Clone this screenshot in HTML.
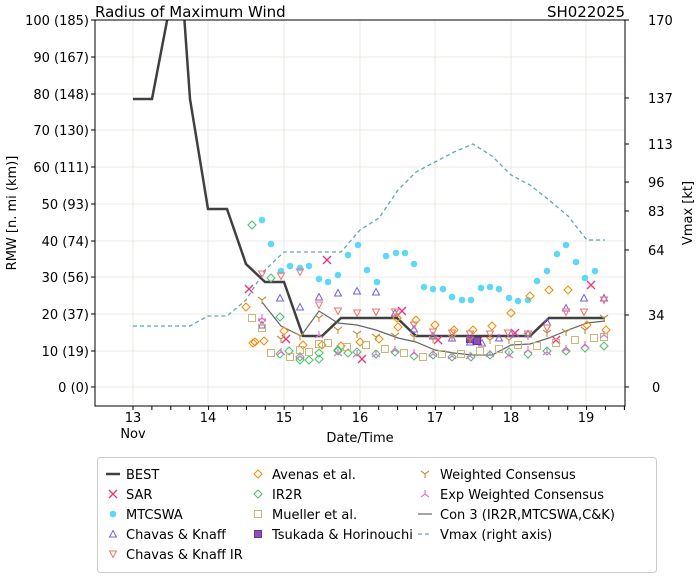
<!DOCTYPE html>
<html><head><meta charset="utf-8"><style>
body{margin:0;background:#fff;width:700px;height:579px;overflow:hidden}
svg text{font-family:"DejaVu Sans","Liberation Sans",sans-serif;fill:#000}
</style></head><body>
<svg id="s" width="700" height="579" xmlns="http://www.w3.org/2000/svg">
<defs><clipPath id="c"><rect x="95" y="20" width="530" height="386"/></clipPath></defs>
<rect x="95" y="20" width="530" height="386" fill="#fff"/>
<g id="grid" stroke="#e8e4dc" stroke-width="0.8"></g>
<text x="95" y="17" font-size="15">Radius of Maximum Wind</text>
<text x="625" y="17" font-size="15" text-anchor="end">SH022025</text>
<g font-size="13" text-anchor="end">
<text x="89" y="25">100 (185)</text><text x="89" y="62">90 (167)</text><text x="89" y="99">80 (148)</text><text x="89" y="135">70 (130)</text><text x="89" y="172">60 (111)</text><text x="89" y="209">50 (93)</text><text x="89" y="246">40 (74)</text><text x="89" y="282">30 (56)</text><text x="89" y="319">20 (37)</text><text x="89" y="356">10 (19)</text><text x="89" y="392">0 (0)</text>
</g>
<g font-size="13">
<text x="648" y="25">170</text><text x="648" y="103">137</text><text x="648" y="149">113</text><text x="648" y="187">96</text><text x="648" y="216">83</text><text x="648" y="255">64</text><text x="648" y="320">34</text><text x="652" y="392">0</text>
</g>
<g font-size="13" text-anchor="middle">
<text x="133" y="422">13</text><text x="133" y="438">Nov</text><text x="208" y="422">14</text><text x="284" y="422">15</text><text x="360" y="422">16</text><text x="435" y="422">17</text><text x="511" y="422">18</text><text x="586" y="422">19</text>
<text x="360" y="442">Date/Time</text>
</g>
<text transform="translate(16,213) rotate(-90)" font-size="13" text-anchor="middle">RMW [n. mi (km)]</text>
<text transform="translate(692,213) rotate(-90)" font-size="13" text-anchor="middle">Vmax [kt]</text>
<g id="plot" clip-path="url(#c)"></g>
<rect x="95" y="20" width="530" height="386" fill="none" stroke="#000" stroke-width="1"/>
<g id="ticks" stroke="#000"></g>
<rect x="97.5" y="457.5" width="559" height="115" rx="3" fill="#fff" stroke="#ccc"/>
<g font-size="13">
<text x="126" y="479">BEST</text><text x="126" y="499">SAR</text><text x="126" y="519">MTCSWA</text><text x="126" y="539">Chavas &amp; Knaff</text><text x="126" y="559">Chavas &amp; Knaff IR</text>
<text x="272" y="479">Avenas et al.</text><text x="272" y="499">IR2R</text><text x="272" y="519">Mueller et al.</text><text x="272" y="539">Tsukada &amp; Horinouchi</text>
<text x="440" y="479">Weighted Consensus</text><text x="440" y="499">Exp Weighted Consensus</text><text x="440" y="519">Con 3 (IR2R,MTCSWA,C&amp;K)</text><text x="440" y="539">Vmax (right axis)</text>
</g>
<g id="leg"></g>
</svg>
<script>
const NS="http://www.w3.org/2000/svg";
function el(p,t,a){const e=document.createElementNS(NS,t);for(const k in a)e.setAttribute(k,a[k]);document.getElementById(p).appendChild(e);return e;}
const ys=[20,57,94,130,167,204,241,277,314,351,387];
ys.forEach(y=>el("grid","line",{x1:95,x2:625,y1:y,y2:y}));
[133,208,284,360,435,511,586].forEach(x=>el("grid","line",{x1:x,x2:x,y1:20,y2:406}));
ys.forEach(y=>{el("ticks","line",{x1:91,x2:95,y1:y,y2:y});});
[20,98,144,182,211,250,315,387].forEach(y=>el("ticks","line",{x1:625,x2:629,y1:y,y2:y}));
for(let x=133;x<=625;x+=18.9){el("ticks","line",{x1:x,x2:x,y1:406,y2:410});}
function pl(pts,a){el("plot","polyline",Object.assign({points:pts.map(p=>p.join(",")).join(" "),fill:"none"},a));}
pl([[133,326],[190,326],[208,316],[227,316],[246,300],[265,270],[284,252],[341,252],[360,230],[379,218],[398,190],[416,172],[435,162],[454,152],[473,144],[492,156],[511,175],[530,185],[549,200],[568,216],[587,240],[605,240]],{stroke:"#5fa8b0","stroke-width":1.3,"stroke-dasharray":"4,3"});
pl([[133,99],[152,99],[171,0],[183,0],[190,99],[208,209],[227,209],[246,264],[265,282],[284,282],[303,336],[322,336],[341,318],[397,318],[416,336],[530,336],[549,318],[605,318]],{stroke:"#404040","stroke-width":2.5});
pl([[262,302],[281,326],[301,336],[319,311],[338,323],[357,325],[376,330],[398,338],[416,342],[435,350],[454,353],[473,355],[492,355],[511,345],[530,344],[549,338],[568,330],[587,323],[605,321]],{stroke:"#666","stroke-width":1.2});
function cyan(x,y,p){el(p||"plot","circle",{cx:x,cy:y,r:3.3,fill:"#5fd8f8"});}
function X(x,y,p){el(p||"plot","path",{d:`M${x-4},${y-4}L${x+4},${y+4}M${x-4},${y+4}L${x+4},${y-4}`,stroke:"#f0307a","stroke-width":1.3});}
function tri(x,y,c,up,p){const d=up?`M${x},${y-3.5}L${x+3.5},${y+3}L${x-3.5},${y+3}Z`:`M${x},${y+3.5}L${x+3.5},${y-3}L${x-3.5},${y-3}Z`;el(p||"plot","path",{d:d,fill:"none",stroke:c,"stroke-width":1});}
function dia(x,y,c,p){el(p||"plot","path",{d:`M${x},${y-4}L${x+4},${y}L${x},${y+4}L${x-4},${y}Z`,fill:"none",stroke:c,"stroke-width":1.1});}
function sq(x,y,c,f,p){el(p||"plot","rect",{x:x-3.5,y:y-3.5,width:7,height:7,fill:f||"none",stroke:c,"stroke-width":1});}
function Y(x,y,c,inv,p){const s=inv?-1:1;el(p||"plot","path",{d:`M${x},${y}L${x},${y+4*s}M${x},${y}L${x-4},${y-3*s}M${x},${y}L${x+4},${y-3*s}`,stroke:c,"stroke-width":1.1,fill:"none"});}
[[262,220],[271,244],[281,271],[290,266],[300,268],[309,266],[319,279],[328,282],[338,275],[348,255],[358,245],[367,270],[377,282],[386,256],[396,253],[405,253],[414,264],[424,287],[433,289],[443,289],[452,297],[462,300],[471,300],[481,288],[490,287],[499,289],[509,298],[518,301],[528,300],[537,281],[547,271],[557,254],[566,245],[576,262],[585,278],[595,271]].forEach(p=>cyan(p[0],p[1]));
[[249,289],[286,339],[327,260],[362,359],[402,311],[438,340],[478,341],[515,333],[556,340],[591,285]].forEach(p=>X(p[0],p[1]));
[[262,325],[280,298],[300,307],[319,297],[338,293],[357,291],[376,292],[395,313],[414,329],[433,336],[452,338],[470,342],[482,343],[499,338],[511,334],[528,334],[547,322],[566,308],[584,298],[604,298]].forEach(p=>tri(p[0],p[1],"#7a5ce8",true));
[[262,274],[281,276],[300,272],[319,305],[338,311],[357,313],[376,312],[395,312],[414,325],[433,332],[452,333],[470,334],[490,334],[508,333],[528,334],[547,328],[566,312],[584,312],[604,300],[262,322]].forEach(p=>tri(p[0],p[1],"#f07070",false));
[[246,307],[255,342],[284,331],[303,345],[322,345],[341,346],[360,342],[379,339],[398,327],[416,320],[435,325],[454,330],[473,330],[492,326],[511,313],[530,296],[549,290],[568,290],[587,325],[606,330],[253,343],[264,341],[397,318]].forEach(p=>dia(p[0],p[1],"#f0900a"));
[[252,225],[271,278],[280,317],[289,351],[300,360],[309,360],[319,359],[338,351],[348,353],[357,352],[376,354],[395,352],[414,356],[433,355],[452,357],[471,357],[490,355],[509,352],[528,354],[547,351],[566,351],[585,348],[604,346],[280,354],[300,357],[319,353],[338,350]].forEach(p=>dia(p[0],p[1],"#50c070"));
[[252,318],[262,328],[271,353],[290,357],[309,352],[328,343],[347,347],[366,345],[385,349],[404,353],[423,357],[442,354],[461,354],[480,351],[499,349],[518,345],[537,346],[556,343],[575,340],[594,338],[604,337],[300,350],[319,344]].forEach(p=>sq(p[0],p[1],"#c8b878"));
sq(470,339,"#7030a0","#8a50b8");sq(477,341,"#7030a0","#8a50b8");
[[262,300],[281,339],[300,336],[319,318],[338,330],[357,334],[376,337],[395,336],[414,337],[433,339],[452,338],[470,340],[490,340],[509,340],[528,336],[547,333],[566,332],[585,330],[604,318]].forEach(p=>Y(p[0],p[1],"#c09040"));
[[262,318],[281,352],[300,356],[319,335],[338,353],[357,354],[376,354],[395,350],[414,353],[433,354],[452,356],[470,356],[490,354],[509,355],[528,350],[547,352],[566,349],[585,345],[604,335]].forEach(p=>Y(p[0],p[1],"#e070d0",true));
el("leg","line",{x1:106,x2:120,y1:474,y2:474,stroke:"#404040","stroke-width":2.5});
X(113,494,"leg");cyan(113,514,"leg");tri(113,534,"#7a5ce8",true,"leg");tri(113,554,"#f07070",false,"leg");
dia(258,474,"#f0900a","leg");dia(258,494,"#50c070","leg");sq(258,514,"#c8b878",null,"leg");sq(258,534,"#7030a0","#8a50b8","leg");
Y(425,474,"#c09040",false,"leg");Y(425,494,"#e070d0",true,"leg");
el("leg","line",{x1:418,x2:432,y1:514,y2:514,stroke:"#666","stroke-width":1.2});
el("leg","line",{x1:418,x2:432,y1:534,y2:534,stroke:"#5fa8b0","stroke-width":1.3,"stroke-dasharray":"4,3"});
</script>
</body></html>
